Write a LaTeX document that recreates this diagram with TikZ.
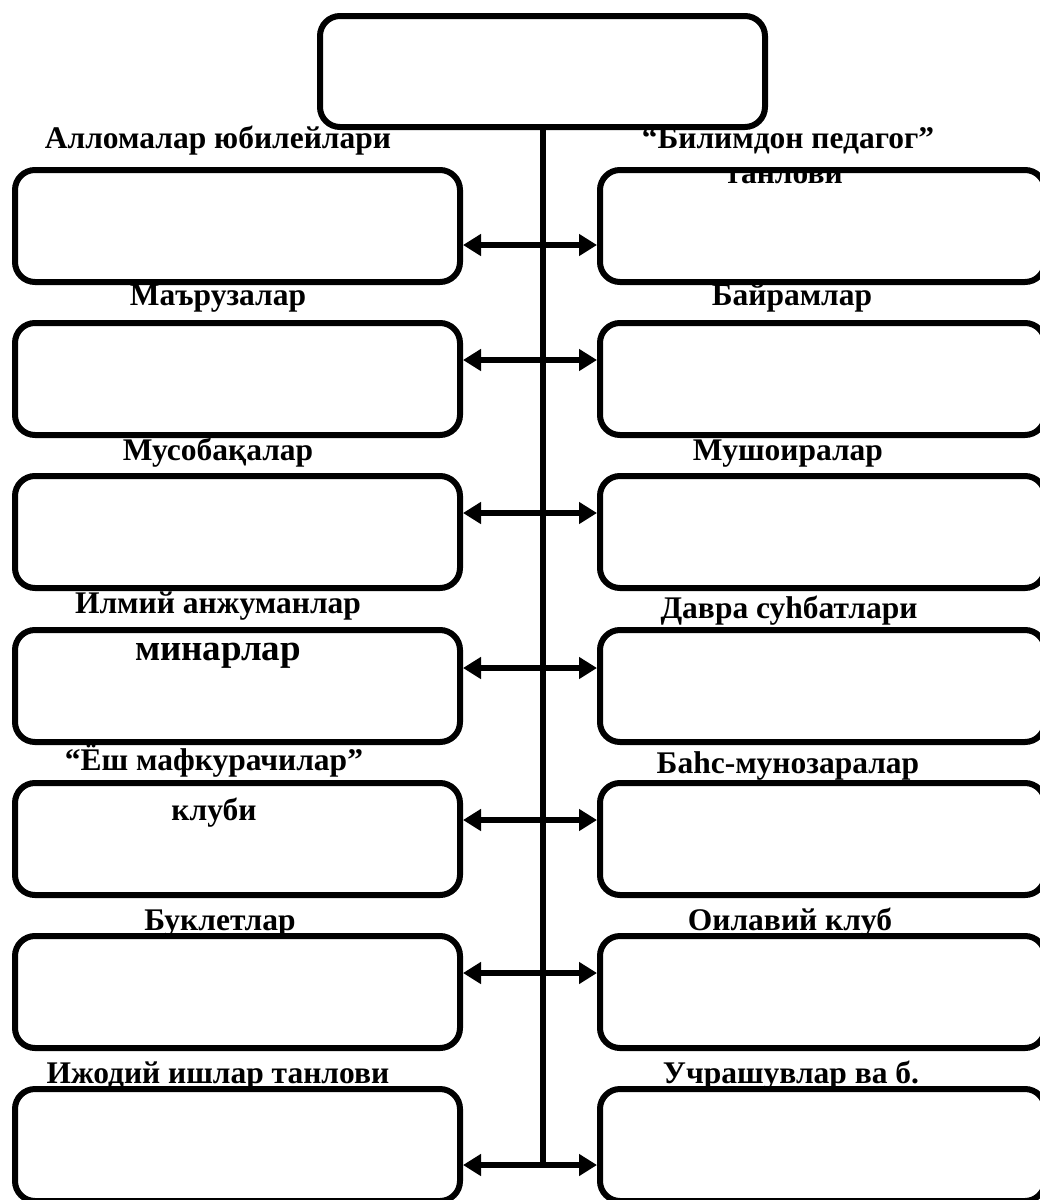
\documentclass[tikz,border=0pt]{standalone}
\usepackage{fontspec}
\setmainfont{Liberation Serif}
\usetikzlibrary{arrows.meta}
\tikzset{
	box/.style={draw,line width=6pt,rounded corners=20pt,minimum width=445pt,minimum height=112pt,inner sep=0pt},
	lbl/.style={font=\bfseries\fontsize{31.5}{34}\selectfont,anchor=base,inner sep=0pt},
	link/.style={line width=6pt,{Triangle[length=18pt,width=21pt]}-{Triangle[length=18pt,width=21pt]}},
	trunk/.style={line width=6pt}
}
\begin{document}
\begin{tikzpicture}[x=1pt,y=-1pt]
						\useasboundingbox (0,0) rectangle (1040,1200);
						\node [box,minimum height=111pt] (top) at (542.5,71.5) {};

						\node [box] (l1) at (237.5,226) {};
						\node [box] (l2) at (237.5,379) {};
						\node [box] (l3) at (237.5,532) {};
						\node [box] (l4) at (237.5,686) {};
						\node [box] (l5) at (237.5,839) {};
						\node [box] (l6) at (237.5,992) {};
						\node [box] (l7) at (237.5,1145) {};
						\node [box] (r1) at (822.5,226) {};
						\node [box] (r2) at (822.5,379) {};
						\node [box] (r3) at (822.5,532) {};
						\node [box] (r4) at (822.5,686) {};
						\node [box] (r5) at (822.5,839) {};
						\node [box] (r6) at (822.5,992) {};
						\node [box] (r7) at (822.5,1145) {};

						\node [lbl] (t1) at (218,148) {Алломалар юбилейлари};
						\node [lbl] (t2) at (218,305) {Маърузалар};
						\node [lbl] (t3) at (218,460) {Мусобақалар};
						\node [lbl] (t4) at (218,613) {Илмий анжуманлар};
						\node [lbl,font=\bfseries\fontsize{37}{40}\selectfont] (t4b) at (218,660) {минарлар};
						\node [lbl] (t5) at (214,770) {“Ёш мафкурачилар”};
						\node [lbl] (t5b) at (214,820) {клуби};
						\node [lbl] (t6) at (220,930) {Буклетлар};
						\node [lbl] (t7) at (218,1083) {Ижодий ишлар танлови};
						\node [lbl] (s1) at (788,148) {“Билимдон педагог”};
						\node [lbl] (s1b) at (784,183) {танлови};
						\node [lbl] (s2) at (792,305) {Байрамлар};
						\node [lbl] (s3) at (788,460) {Мушоиралар};
						\node [lbl] (s4) at (789,618) {Давра суһбатлари};
						\node [lbl] (s5) at (788,773) {Баһс-мунозаралар};
						\node [lbl] (s6) at (790,930) {Оилавий клуб};
						\node [lbl] (s7) at (791,1083) {Учрашувлар ва б.};

						\coordinate (trunkend) at (542.5,1162);
						\draw [trunk] (top.south) -- (trunkend);
						\draw [link] ([yshift=-19pt]l1.east) -- ([yshift=-19pt]r1.west);
						\draw [link] ([yshift=19pt]l2.east) -- ([yshift=19pt]r2.west);
						\draw [link] ([yshift=19pt]l3.east) -- ([yshift=19pt]r3.west);
						\draw [link] ([yshift=18pt]l4.east) -- ([yshift=18pt]r4.west);
						\draw [link] ([yshift=19pt]l5.east) -- ([yshift=19pt]r5.west);
						\draw [link] ([yshift=19pt]l6.east) -- ([yshift=19pt]r6.west);
						\draw [link] ([yshift=-20pt]l7.east) -- ([yshift=-20pt]r7.west);
					\end{tikzpicture}
\end{document}
